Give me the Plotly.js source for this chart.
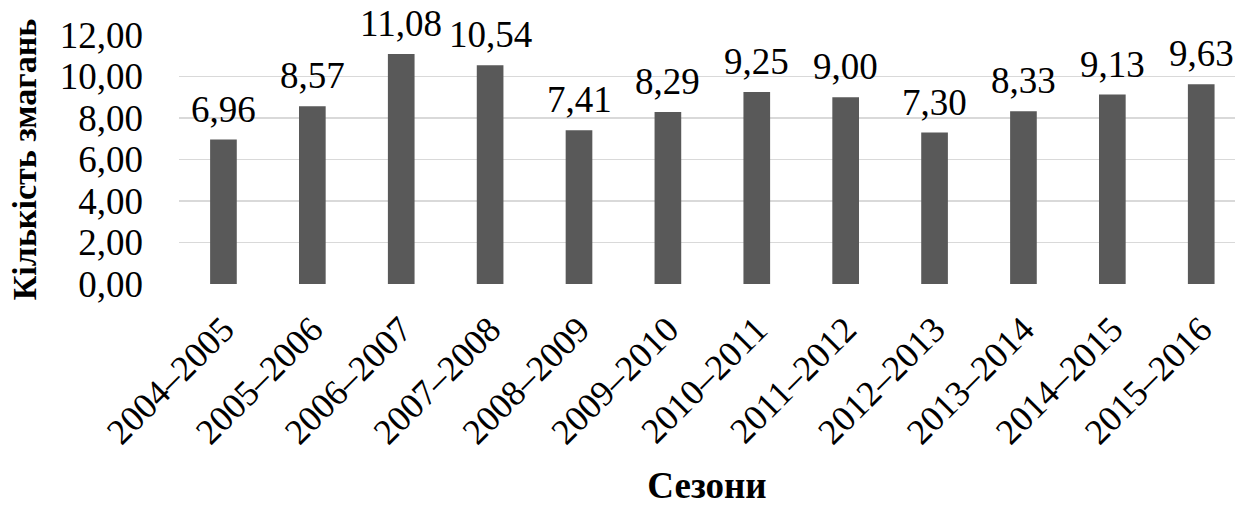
<!DOCTYPE html>
<html>
<head>
<meta charset="utf-8">
<script src="https://cdn.plot.ly/plotly-3.0.1.min.js"></script>
<style>html,body{margin:0;padding:0;background:#fff;}#chart{width:1235px;height:506px;}</style>
</head>
<body>
<div id="chart"></div>
<script>
const seasons = ["2004–2005","2005–2006","2006–2007","2007–2008","2008–2009","2009–2010","2010–2011","2011–2012","2012–2013","2013–2014","2014–2015","2015–2016"];
const competitions = [6.96, 8.57, 11.08, 10.54, 7.41, 8.29, 9.25, 9.00, 7.30, 8.33, 9.13, 9.63];
const yTicks = [0, 2, 4, 6, 8, 10, 12];

const font = "'Times New Roman', 'Liberation Serif', serif";

const labels = seasons.map((s, i) => ({
  x: s, y: competitions[i], xref: 'x', yref: 'y',
  text: competitions[i].toFixed(2).replace('.', ','),
  showarrow: false, yanchor: 'bottom', xanchor: 'center',
  yshift: 8,
  font: {family: font, size: 37, color: '#000'}
}));

Plotly.newPlot('chart', [{
  type: 'bar',
  x: seasons,
  y: competitions,
  marker: {color: '#595959'},
  hoverinfo: 'skip'
}], {
  width: 1235, height: 506,
  margin: {l: 179, r: 0, t: 35, b: 222},
  separators: ', ',
  bargap: 0.7,
  showlegend: false,
  paper_bgcolor: '#fff', plot_bgcolor: '#fff',
  font: {family: font, color: '#000'},
  annotations: labels,
  xaxis: {
    type: 'category',
    range: [-0.5, 11.38],
    tickangle: -45,
    tickfont: {family: font, size: 36, color: '#000'},
    showgrid: false, zeroline: false, showline: false,
    ticks: '',
    ticklabelstandoff: 16,
    title: {text: '<b>Сезони</b>', font: {family: font, size: 37, color: '#000'}, standoff: 34}
  },
  yaxis: {
    range: [0, 12],
    tickvals: yTicks,
    tickformat: '.2f',
    tickfont: {family: font, size: 37, color: '#000'},
    gridcolor: '#d9d9d9', gridwidth: 1.5,
    zeroline: false, showline: false,
    ticks: '',
    ticklabelstandoff: 35,
    title: {text: '<b>Кількість змагань</b>', font: {family: font, size: 34, color: '#000'}, standoff: 12}
  }
}, {displayModeBar: false, staticPlot: true});
</script>
</body>
</html>
